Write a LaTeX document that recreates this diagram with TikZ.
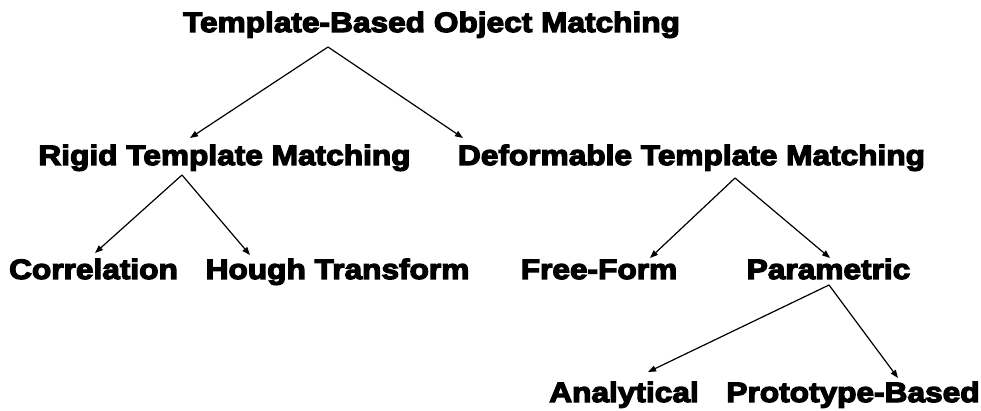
\documentclass[tikz,border=0pt]{standalone}
\usepackage{fontspec}
\newfontfamily\heavyfont{Liberation Sans Bold}[FakeBold=4.5, FakeStretch=1.13]
\usetikzlibrary{arrows.meta}

\begin{document}
\begin{tikzpicture}[
    x=1pt, y=-1pt,
    item/.style={anchor=base, inner sep=0pt, font=\heavyfont\fontsize{28}{30}\selectfont},
    link/.style={draw, line width=1.2pt, -{Triangle[length=8pt, width=6pt]}},
]
    \useasboundingbox (0,0) rectangle (981,411);

    % Tree levels
    \node[item] (root) at (431.5,32) {Template-Based Object Matching};
    \node[item] (rigid) at (224.5,165) {Rigid Template Matching};
    \node[item] (deform) at (691.5,165) {Deformable Template Matching};
    \node[item] (corr) at (93.5,279) {Correlation};
    \node[item] (hough) at (337.5,279) {Hough Transform};
    \node[item] (free) at (599,279) {Free-Form};
    \node[item] (param) at (828.5,279) {Parametric};
    \node[item] (anal) at (624,402) {Analytical};
    \node[item] (proto) at (853,402) {Prototype-Based};

    % Branches
    \draw[link] ([shift={(-103.5,15)}]root.base) -- ([shift={(-34.5,-27)}]rigid.base);
    \draw[link] ([shift={(-103.5,15)}]root.base) -- ([shift={(-228.5,-27)}]deform.base);

    \draw[link] ([shift={(-42.5,10)}]rigid.base) -- ([shift={(1.5,-26)}]corr.base);
    \draw[link] ([shift={(-42.5,10)}]rigid.base) -- ([shift={(-87.5,-24)}]hough.base);

    \draw[link] ([shift={(43.5,13)}]deform.base) -- ([shift={(51,-21)}]free.base);
    \draw[link] ([shift={(43.5,13)}]deform.base) -- ([shift={(1.5,-21)}]param.base);

    \draw[link] ([shift={(0.5,6)}]param.base) -- ([shift={(24,-30)}]anal.base);
    \draw[link] ([shift={(0.5,6)}]param.base) -- ([shift={(45,-24)}]proto.base);
\end{tikzpicture}
\end{document}
